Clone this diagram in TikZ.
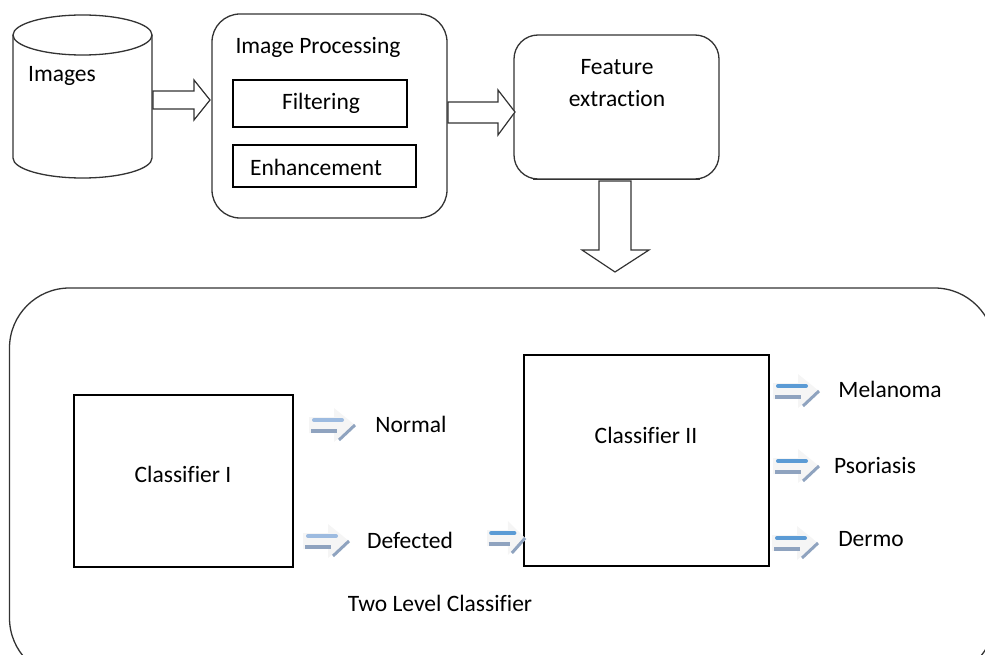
\documentclass[tikz,border=0pt]{standalone}
\usepackage{fontspec}
\usetikzlibrary{calc}
\setmainfont[Ligatures=NoCommon]{Carlito}
\definecolor{sblue}{HTML}{5B9BD5}
\definecolor{sbluel}{HTML}{9DBBE0}
\definecolor{sgray}{HTML}{8FA3BF}
\definecolor{edge}{HTML}{333333}
\begin{document}
\begin{tikzpicture}[x=1pt,y=1pt, font=\fontsize{23.5}{28}\selectfont,
  box/.style={draw=black, line width=1.3pt, inner sep=0pt},
  rbox/.style={draw=edge, line width=1.3pt, rounded corners=28pt, inner sep=0pt},
  barrow/.style={draw=edge, line width=1.2pt, fill=white, line join=miter},
  lbl/.style={inner sep=0pt, text=black},
  pics/sarr/.style={code={
    \fill[gray!8] (0,-8)--(25,-8)--(25,-17)--(46,0)--(25,17)--(25,8)--(0,8)--cycle;
    \draw[line width=4pt, #1, line cap=round] (5,5)--(33,5);
    \draw[line width=3.6pt, sgray] (2,-6)--(28,-6);
    \draw[line width=3pt, sgray] (30,-15)--(46,0);
  }},
  pics/sarr/.default=sblue]
\useasboundingbox (0,0) rectangle (985,-655);
\begin{scope}
\clip (0,0) rectangle (985,-655);
\node[rbox, rounded corners=60pt, minimum width=985pt, minimum height=390pt] (outer) at (502,-483) {};
\end{scope}

% cylinder
\draw[edge, line width=1.3pt, fill=white] (13,-35) -- (13,-158) arc[start angle=180, end angle=360, x radius=69.5pt, y radius=20pt] -- (152,-35);
\draw[edge, line width=1.3pt] (82.5,-35) ellipse [x radius=69.5pt, y radius=20pt];
\node[lbl] (images) at (62,-76) {Images};

% image processing
\node[rbox, minimum width=235pt, minimum height=204pt] (ip) at (329.5,-116) {};
\node[lbl] (iptitle) at (318,-47) {Image Processing};
\node[box, minimum width=174pt, minimum height=47pt] (filt) at (320,-103.5) {};
\node[lbl] at (filt.center) [xshift=1pt] {Filtering};
\node[box, minimum width=183pt, minimum height=42pt] (enh) at (324.5,-166) {};
\node[lbl] at (316,-167) {Enhancement};

% feature extraction
\node[rbox, rounded corners=24pt, minimum width=205pt, minimum height=144pt] (feat) at (616.5,-107) {};
\node[lbl] (feat1) at (617,-67) {Feature};
\node[lbl] (feat2) at (617,-99) {extraction};

% block arrows
\draw[barrow] (153,-91)--(194,-91)--(194,-80)--(210,-100)--(194,-120)--(194,-109)--(153,-109)--cycle;
\draw[barrow] (448,-102)--(498,-102)--(498,-90)--(515,-112)--(498,-135)--(498,-123)--(448,-123)--cycle;
\draw[barrow] (599,-181)--(631,-181)--(631,-250)--(649,-250)--(615,-272)--(582,-250)--(599,-250)--cycle;
\draw[edge, line width=1.3pt] ($(feat.south west)+(20,0)$) -- ($(feat.south east)+(-20,0)$);

% classifiers
\node[box, minimum width=219pt, minimum height=172pt] (c1) at (183.5,-481) {};
\node[lbl] at (183,-474) {Classifier I};
\node[box, minimum width=245pt, minimum height=211pt] (c2) at (646.5,-460.5) {};
\node[lbl] at (646,-435) {Classifier II};

% striped arrows
\pic at (309,-425) {sarr=sbluel};
\pic at (303,-541) {sarr=sbluel};
\pic[xscale=0.83] at (487,-538) {sarr=sblue};
\pic at (773,-391) {sarr=sblue};
\pic at (773,-466) {sarr=sblue};
\pic at (772,-543) {sarr=sblue};

\node[lbl] (normal) at (411,-424) {Normal};
\node[lbl] (defected) at (410,-540) {Defected};
\node[lbl] (mel) at (890,-389) {Melanoma};
\node[lbl] (pso) at (875,-465) {Psoriasis};
\node[lbl] (der) at (871,-539) {Dermo};
\node[lbl] (two) at (440,-603) {Two Level Classifier};
\end{tikzpicture}
\end{document}
